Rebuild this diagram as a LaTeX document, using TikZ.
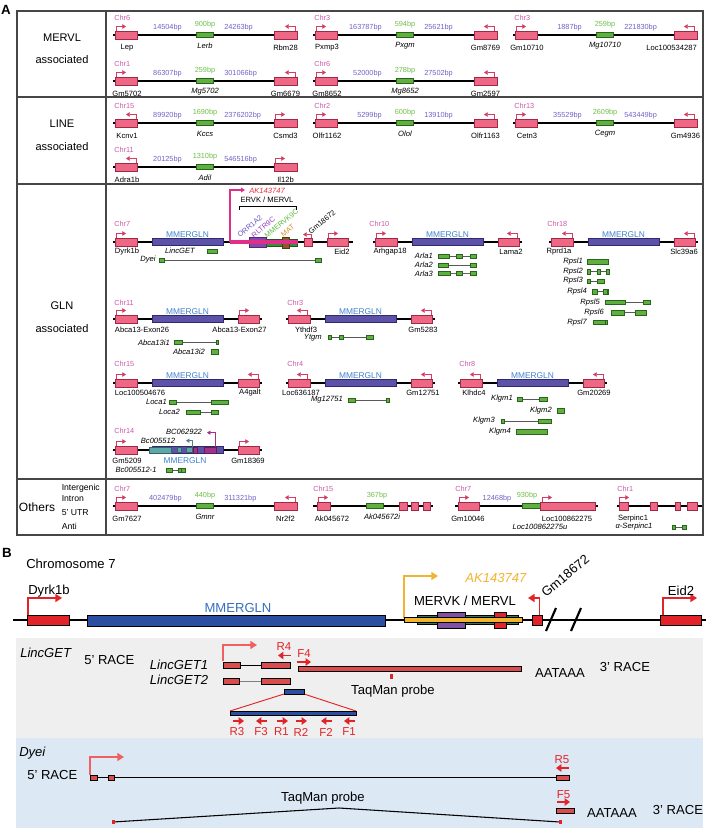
\documentclass[tikz,border=0pt]{standalone}
\usepackage{fontspec}
\setmainfont{Liberation Sans}
\usetikzlibrary{arrows.meta}
\definecolor{gpink}{RGB}{238,104,134}
\definecolor{gpinkd}{RGB}{160,40,70}
\definecolor{tssc}{RGB}{214,60,100}
\definecolor{lgreen}{RGB}{96,176,64}
\definecolor{lgreend}{RGB}{40,100,30}
\definecolor{glnc}{RGB}{92,82,168}
\definecolor{glncd}{RGB}{50,40,110}
\definecolor{chrc}{RGB}{204,92,170}
\definecolor{bpc}{RGB}{112,100,200}
\definecolor{szc}{RGB}{112,190,72}
\definecolor{glnlabc}{RGB}{64,132,204}
\definecolor{bred}{RGB}{226,36,40}
\definecolor{lred}{RGB}{216,78,78}
\definecolor{tssb}{RGB}{240,96,96}
\definecolor{borange}{RGB}{242,180,48}
\definecolor{bblue}{RGB}{44,78,160}
\definecolor{bblab}{RGB}{52,112,192}
\definecolor{bpurple}{RGB}{128,80,164}
\definecolor{bgreen}{RGB}{60,120,60}
\definecolor{bandgray}{RGB}{239,239,239}
\definecolor{bandblue}{RGB}{220,232,244}
\definecolor{magc}{RGB}{222,48,136}
\definecolor{mvio}{RGB}{136,70,176}
\definecolor{tealc}{RGB}{92,168,168}
\definecolor{brownc}{RGB}{140,90,40}
\definecolor{matc}{RGB}{214,140,50}
\definecolor{oriv}{RGB}{100,84,200}
\definecolor{rltc}{RGB}{150,64,190}
\definecolor{mmvc}{RGB}{96,186,64}
\definecolor{ervg}{RGB}{60,140,60}
\definecolor{bordc}{RGB}{70,70,70}
\definecolor{akred}{RGB}{230,50,60}
\definecolor{bcmag}{RGB}{160,50,140}
\newcommand\fGene{\fontsize{5.7}{6.5}\selectfont}
\newcommand\fBp{\fontsize{5.5}{6.5}\selectfont}
\newcommand\fSide{\fontsize{8.3}{10}\selectfont}
\newcommand\fBig{\fontsize{9.8}{12}\selectfont}
\newcommand\fPr{\fontsize{8.6}{10}\selectfont}
\newcommand\fRot{\fontsize{5.5}{6.5}\selectfont}
% shapes
\newcommand\mkPink[3]{\draw[genebox] (#1,#3-3.8) rectangle (#2,#3+3.8);}
\newcommand\mkLnc[3]{\draw[lncbox] (#1,#3-2.6) rectangle (#2,#3+2.6);}
\newcommand\mkTr[3]{\draw[lncbox] (#1,#3-2.2) rectangle (#2,#3+2.2);}
\newcommand\mkTrLine[3]{\draw[trline] (#1,#3) -- (#2,#3);}
\newcommand\mkTssR[2]{\draw[tssA] (#1,#2-3.8) -- (#1,#2-8.5) -- (#1+10,#2-8.5);}
\newcommand\mkTssL[2]{\draw[tssA] (#1,#2-3.8) -- (#1,#2-8.5) -- (#1-10,#2-8.5);}
\newcommand\mkStd[2]{%
  \draw[chrline] (#1+113,#2) -- (#1+298,#2);
  \mkPink{#1+115}{#1+137}{#2}
  \mkLnc{#1+196}{#1+213}{#2}
  \mkPink{#1+274}{#1+297}{#2}}
\newcommand\mkStdLab[9]{%
  \node[chrlab,anchor=west] at (#1+114,#2-17.5) {#3};
  \node[gname] at (#1+127,#2+12.7) {#4};
  \node[bplab,anchor=east] at (#1+182,#2-7.5) {#5};
  \node[szlab] at (#1+205,#2-10) {#6};
  \node[gital] at (#1+205,#2+10.5) {#7};
  \node[bplab,anchor=west] at (#1+224,#2-7.5) {#8};
  \node[gname] at (#1+285.5,#2+12.7) {#9};}
\newcommand\mkGln[2]{%
  \draw[chrline] (#1+113,#2) -- (#1+262,#2);
  \mkPink{#1+115}{#1+137}{#2}
  \draw[glnbox] (#1+152,#2-3.3) rectangle (#1+223,#2+3.3);
  \mkPink{#1+238}{#1+259}{#2}}
\newcommand\mkGlnLab[2]{\node[glnl] at (#1+187.5,#2-7.2) {MMERGLN};}
\begin{document}
\begin{tikzpicture}[x=0.75pt,y=-0.75pt,
  genebox/.style={fill=gpink,draw=gpinkd,line width=0.35pt},
  lncbox/.style={fill=lgreen,draw=lgreend,line width=0.35pt},
  glnbox/.style={fill=glnc,draw=glncd,line width=0.35pt},
  chrline/.style={line width=1.1pt},
  trline/.style={line width=0.5pt,draw=black!65},
  tssA/.style={draw=tssc,line width=0.75pt,-{Triangle[length=2.8pt,width=3.4pt]}},
  framel/.style={draw=bordc,line width=0.8pt},
  gname/.style={font=\fGene,inner sep=0pt},
  gital/.style={font=\fGene\itshape,inner sep=0pt},
  chrlab/.style={font=\fBp,text=chrc,inner sep=0pt},
  bplab/.style={font=\fBp,text=bpc,inner sep=0pt},
  szlab/.style={font=\fBp,text=szc,inner sep=0pt},
  glnl/.style={font=\fontsize{6.3}{7}\selectfont,text=glnlabc,inner sep=0pt},
  sidetxt/.style={font=\fSide,inner sep=0pt},
  bigtxt/.style={font=\fBig,inner sep=0pt},
  bigit/.style={font=\fBig\itshape,inner sep=0pt},
  bbox/.style={draw=black,line width=0.45pt},
  tssbig/.style={line width=1.2pt,-{Triangle[length=5pt,width=6pt]}},
  primer/.style={draw=bred,line width=1.4pt,-{Triangle[length=4pt,width=5.5pt]}},
  prlab/.style={font=\fPr,text=bred,inner sep=0pt},
  rotl/.style={font=\fRot,inner sep=0pt,rotate=40,anchor=base west}]
\useasboundingbox (0,0) rectangle (709,828);
\fill[white] (0,0) rectangle (709,828);
% ================= Panel A ==================
\node[font=\bfseries\fontsize{10}{12}\selectfont,inner sep=0pt] (labA) at (6,9.5) {A};
\draw[framel] (17,11) rectangle (703,535);
\draw[framel] (106,11) -- (106,535);
\draw[framel] (17,97) -- (703,97);
\draw[framel] (17,184) -- (703,184);
\draw[framel] (17,479) -- (703,479);
\node[sidetxt] (s1) at (62,38) {MERVL};
\node[sidetxt] (s2) at (62,60) {associated};
\node[sidetxt] (s3) at (62,124) {LINE};
\node[sidetxt] (s4) at (62,147) {associated};
\node[sidetxt] (s5) at (62,306) {GLN};
\node[sidetxt] (s6) at (62,329) {associated};
\node[font=\fontsize{9}{11}\selectfont,inner sep=0pt] (s7) at (37,507) {Others};
\node[font=\fontsize{6.5}{8}\selectfont,inner sep=0pt,anchor=west] at (61.5,488) {Intergenic};
\node[font=\fontsize{6.5}{8}\selectfont,inner sep=0pt,anchor=west] at (61.5,498.5) {Intron};
\node[font=\fontsize{6.5}{8}\selectfont,inner sep=0pt,anchor=west] at (61.5,512.5) {5' UTR};
\node[font=\fontsize{6.5}{8}\selectfont,inner sep=0pt,anchor=west] at (61.5,526.5) {Anti};
% ---- MERVL
\mkStd{0}{35} \mkTssR{116}{35} \mkTssL{295}{35}
\mkStdLab{0}{35}{Chr6}{Lep}{14504bp}{900bp}{Lerb}{24263bp}{Rbm28}
\mkStd{200}{35} \mkTssR{316}{35} \mkTssL{494}{35}
\mkStdLab{200}{35}{Chr3}{Pxmp3}{163787bp}{594bp}{Pxgm}{25621bp}{Gm8769}
\mkStd{400}{35} \mkTssR{516}{35} \mkTssL{694}{35}
\mkStdLab{400}{35}{Chr3}{Gm10710}{1887bp}{259bp}{Mg10710}{221830bp}{}
\node[gname,anchor=east] at (697,47.7) {Loc100534287};
\mkStd{0}{81} \mkTssR{116}{81} \mkTssL{295}{81}
\mkStdLab{0}{81}{Chr1}{Gm5702}{86307bp}{259bp}{Mg5702}{301066bp}{Gm6679}
\mkStd{200}{81} \mkTssR{316}{81} \mkTssL{494}{81}
\mkStdLab{200}{81}{Chr6}{Gm8652}{52000bp}{278bp}{Mg8652}{27502bp}{Gm2597}
% ---- LINE
\mkStd{0}{123} \mkTssL{136}{123} \mkTssR{275}{123}
\mkStdLab{0}{123}{Chr15}{Kcnv1}{89920bp}{1690bp}{Kccs}{2376202bp}{Csmd3}
\mkStd{200}{123} \mkTssR{316}{123} \mkTssL{494}{123}
\mkStdLab{200}{123}{Chr2}{Olfr1162}{5299bp}{600bp}{Olol}{13910bp}{Olfr1163}
\mkStd{400}{123} \mkTssR{516}{123} \mkTssL{694}{123}
\mkStdLab{400}{123}{Chr13}{Cetn3}{35529bp}{2609bp}{Cegm}{543449bp}{Gm4936}
\mkStd{0}{167} \mkTssL{136}{167} \mkTssR{275}{167}
\mkStdLab{0}{167}{Chr11}{Adra1b}{20125bp}{1310bp}{Adil}{546516bp}{Il12b}
% ---- GLN : Chr7
\draw[chrline] (113,242) -- (353,242);
\mkPink{115}{137}{242} \mkTssR{116}{242}
\draw[glnbox] (152,238.7) rectangle (223,245.3);
\node[glnl] at (187.5,235) {MMERGLN};
\draw[fill=mvio,draw=mvio!60!black,line width=0.3pt] (249,237.3) rectangle (266,246.7);
\draw[fill=ervg,draw=ervg!60!black,line width=0.3pt] (266,239) rectangle (297,246);
\draw[fill=brownc,draw=brownc!60!black,line width=0.3pt] (282,236.7) rectangle (289,247.7);
\fill[magc] (230,240.3) rectangle (298,243.5);
\draw[magc,line width=0.9pt,-{Triangle[length=3pt,width=3.6pt]}] (230,242) -- (230,190) -- (245,190);
\node[font=\fGene\itshape,text=akred,inner sep=0pt] at (267,190.5) {AK143747};
\node[gname] at (267,200) {ERVK / MERVL};
\draw[line width=0.45pt] (239,209.5) -- (239,206.7) -- (296,206.7) -- (296,209.5);
\node[rotl,text=oriv] at (240,238) {ORR1A2};
\node[rotl,text=rltc] at (254,238.5) {RLTR9C};
\node[rotl,text=mmvc] at (267,239) {MMERVK9C};
\node[rotl,text=matc] at (283.5,237.5) {MAT};
\node[rotl] at (311,234.5) {Gm18672};
\mkPink{304}{312}{242}
\draw[tssA] (311,238.2) -- (311,234.5) -- (303,234.5);
\mkPink{327}{348}{242} \mkTssR{328}{242}
\node[chrlab,anchor=west] at (114,224) {Chr7};
\node[gname] at (127,251.5) {Dyrk1b};
\node[gname] at (342,251.5) {Eid2};
\node[gital] at (180,251) {LincGET};
\mkTr{207}{217}{251}
\node[gital] at (148,260) {Dyei};
\mkTrLine{164}{315}{260}
\mkTr{159}{164}{260} \mkTr{315}{321}{260}
% ---- Chr10
\mkGln{260}{242} \mkGlnLab{260}{242}
\mkTssR{376}{242} \mkTssL{517}{242}
\node[chrlab,anchor=west] at (369,224) {Chr10};
\node[gname] at (390,251.5) {Arhgap18};
\node[gname] at (511,251.5) {Lama2};
\node[gital,anchor=east] at (433,256) {Arla1};
\mkTrLine{438}{476}{256} \mkTr{438}{449}{256} \mkTr{456}{462}{256} \mkTr{470}{476}{256}
\node[gital,anchor=east] at (433,265) {Arla2};
\mkTrLine{438}{476}{265} \mkTr{438}{448}{265} \mkTr{470}{476}{265}
\node[gital,anchor=east] at (433,273.5) {Arla3};
\draw[line width=0.9pt,draw=black!60] (438,273.5) -- (476,273.5);
\mkTr{438}{450}{273.5} \mkTr{456}{462}{273.5} \mkTr{470}{476}{273.5}
% ---- Chr18
\mkGln{436}{242} \mkGlnLab{436}{242}
\mkTssL{572}{242} \mkTssL{694}{242}
\node[chrlab,anchor=west] at (547,224) {Chr18};
\node[gname] at (559,251.5) {Rprd1a};
\node[gname] at (684,251.5) {Slc39a6};
\node[gital,anchor=east] at (583,261.7) {Rpsl1};
\mkTr{587}{608}{261.7}
\node[gital,anchor=east] at (583,271.7) {Rpsl2};
\mkTrLine{587}{609}{271.7} \mkTr{587}{590}{271.7} \mkTr{597}{600}{271.7} \mkTr{606}{609}{271.7}
\node[gital,anchor=east] at (583,281) {Rpsl3};
\mkTrLine{587}{604}{281} \mkTr{587}{590}{281} \mkTr{597}{604}{281}
\node[gital,anchor=east] at (587,291.7) {Rpsl4};
\mkTrLine{592}{608.5}{291.7} \mkTr{592}{597}{291.7} \mkTr{603}{607}{291.7} \mkTr{607.5}{608.5}{291.7}
\node[gital,anchor=east] at (600,302.3) {Rpsl5};
\mkTrLine{605}{650}{302.3} \mkTr{605}{625}{302.3} \mkTr{643}{650}{302.3}
\node[gital,anchor=east] at (604,312.7) {Rpsl6};
\mkTrLine{611}{646}{312.7} \mkTr{611}{624}{312.7} \mkTr{635}{646}{312.7}
\node[gital,anchor=east] at (587,322.3) {Rpsl7};
\mkTr{593}{605}{322.3} \mkTr{605.5}{607.5}{322.3}
% ---- Chr11 Abca13
\mkGln{0}{319} \mkGlnLab{0}{319}
\mkTssR{116}{319} \mkTssR{239}{319}
\node[chrlab,anchor=west] at (114,303) {Chr11};
\node[gname] at (142,329.5) {Abca13-Exon26};
\node[gname] at (239.5,329.5) {Abca13-Exon27};
\node[gital,anchor=east] at (170,342.3) {Abca13i1};
\mkTrLine{174}{218}{342.3} \mkTr{174}{182}{342.3} \mkTr{216}{218}{342.3}
\node[gital,anchor=east] at (205,351.7) {Abca13i2};
\mkTr{211}{218}{351.7}
% ---- Chr3 Ythdf3
\mkGln{173}{319} \mkGlnLab{173}{319}
\mkTssL{307}{319} \mkTssL{431}{319}
\node[chrlab,anchor=west] at (287,303) {Chr3};
\node[gname] at (306,329.5) {Ythdf3};
\node[gname] at (423,329.5) {Gm5283};
\node[gital,anchor=east] at (322,337.3) {Ytgm};
\mkTrLine{328}{373}{337.3} \mkTr{328}{331}{337.3} \mkTr{339}{343}{337.3} \mkTr{366}{373}{337.3}
% ---- Chr15
\mkGln{0}{383} \mkGlnLab{0}{383}
\mkTssR{116}{383} \mkTssL{258}{383}
\node[chrlab,anchor=west] at (114,364) {Chr15};
\node[gname] at (140,393) {Loc100504676};
\node[gname] at (250,393) {A4galt};
\node[gital,anchor=east] at (167,402.3) {Loca1};
\mkTrLine{169}{228}{402.3} \mkTr{169}{176}{402.3} \mkTr{211}{228}{402.3}
\node[gital,anchor=east] at (180,412) {Loca2};
\mkTrLine{186}{218}{412} \mkTr{186}{200}{412} \mkTr{211}{218}{412}
% ---- Chr4
\mkGln{173}{383} \mkGlnLab{173}{383}
\mkTssL{307}{383} \mkTssL{431}{383}
\node[chrlab,anchor=west] at (287,364) {Chr4};
\node[gname] at (301,393) {Loc636187};
\node[gname] at (423,393) {Gm12751};
\node[gital,anchor=east] at (343,400) {Mg12751};
\mkTrLine{348}{389}{400} \mkTr{348}{355}{400} \mkTr{386}{389}{400}
% ---- Chr8
\mkGln{345}{383} \mkGlnLab{345}{383}
\mkTssL{480}{383} \mkTssL{603}{383}
\node[chrlab,anchor=west] at (459,364) {Chr8};
\node[gname] at (474,393) {Klhdc4};
\node[gname] at (594,393) {Gm20269};
\node[gital,anchor=east] at (513,399) {Klgm1};
\mkTrLine{517}{547}{399} \mkTr{517}{522}{399} \mkTr{539}{547}{399}
\node[gital,anchor=east] at (552,410.7) {Klgm2};
\mkTr{557}{564}{410.7}
\node[gital,anchor=east] at (495,421) {Klgm3};
\mkTrLine{501}{551}{421} \mkTr{501}{504}{421} \mkTr{538}{551}{421}
\node[gital,anchor=east] at (511,431.7) {Klgm4};
\mkTr{516}{547}{431.7}
% ---- Chr14
\draw[chrline] (113,450) -- (262,450);
\mkPink{115}{137}{450} \mkTssR{116}{450}
\draw[glnbox] (152,446.7) rectangle (223,453.3);
\draw[fill=tealc,draw=tealc!60!black,line width=0.3pt] (149,447) rectangle (171,453);
\draw[fill=tealc,draw=tealc!60!black,line width=0.3pt] (177,447.5) rectangle (181,452.5);
\draw[fill=tealc,draw=tealc!60!black,line width=0.3pt] (186,447.5) rectangle (192,452.5);
\draw[fill=bcmag,draw=bcmag!60!black,line width=0.3pt] (193,447) rectangle (197,453);
\draw[fill=bcmag,draw=bcmag!60!black,line width=0.3pt] (204,447) rectangle (216,453);
\mkPink{238}{259}{450} \mkTssR{239}{450}
\draw[bcmag,line width=0.75pt,-{Triangle[length=2.6pt,width=3.2pt]}] (215,447) -- (215,432.7) -- (207,432.7);
\draw[tealc!80!black,line width=0.75pt,-{Triangle[length=2.6pt,width=3.2pt]}] (192,447) -- (192,440.7) -- (186,440.7);
\node[gital] at (184,432) {BC062922};
\node[gital] at (158,440.7) {Bc005512};
\node[chrlab,anchor=west] at (114,431) {Chr14};
\node[gname] at (127,461) {Gm5209};
\node[glnl] at (185,461) {MMERGLN};
\node[gname] at (248,461) {Gm18369};
\node[gital] at (136,470) {Bc005512-1};
\mkTrLine{166}{185}{470} \mkTr{166}{172}{470} \mkTr{178}{181}{470} \mkTr{181}{185}{470}
% ---- Others
\mkStd{0}{506} \mkTssR{116}{506} \mkTssL{295}{506}
\mkStdLab{0}{506}{Chr7}{Gm7627}{402479bp}{440bp}{Gmnr}{311321bp}{Nr2f2}
\draw[chrline] (313,506) -- (433,506);
\mkPink{317}{330}{506} \mkTssR{318}{506}
\mkLnc{366}{383}{506}
\mkPink{399}{407}{506} \mkPink{411}{418}{506} \mkPink{423}{430}{506}
\node[chrlab,anchor=west] at (313,488.5) {Chr15};
\node[szlab] at (377,496) {367bp};
\node[gname] at (332,518.7) {Ak045672};
\node[gital] at (382,516.5) {Ak045672i};
\draw[chrline] (455,506) -- (598,506);
\mkPink{458}{479}{506} \mkTssR{459}{506}
\mkLnc{522}{540}{506}
\mkPink{540}{595}{506} \mkTssR{542}{506}
\node[chrlab,anchor=west] at (455,488.5) {Chr7};
\node[bplab] at (497,498.5) {12468bp};
\node[szlab] at (527,496) {930bp};
\node[gname] at (468,518.7) {Gm10046};
\node[gname] at (567,518.7) {Loc100862275};
\node[gital] at (540,527) {Loc100862275u};
\draw[chrline] (617,506) -- (702,506);
\mkPink{619}{628}{506} \mkTssR{619}{506}
\mkPink{650}{657}{506} \mkPink{675}{680}{506} \mkPink{687}{697}{506}
\node[chrlab,anchor=west] at (617,488.5) {Chr1};
\node[gname] at (633,518.7) {Serpinc1};
\node[gital] at (634,527) {α-Serpinc1};
\mkTrLine{672}{686}{527} \mkTr{672}{675}{527} \mkTr{682}{686}{527}
% ================= Panel B ==================
\node[font=\bfseries\fontsize{10}{12}\selectfont,inner sep=0pt] (labB) at (7,553) {B};
\node[bigtxt,anchor=west] (chrom) at (26,564) {Chromosome 7};
\fill[bandgray] (16,638) rectangle (703,738);
\fill[bandblue] (16,738) rectangle (703,828);
\draw[line width=1.3pt] (13,620) -- (706,620);
% Dyrk1b
\draw[bbox,fill=bred] (27,615) rectangle (69,625);
\draw[tssbig,bred] (28,615) -- (28,598) -- (62,598);
\node[bigtxt] at (49,591) {Dyrk1b};
% MMERGLN
\draw[bbox,fill=bblue] (87,615) rectangle (385,626);
\node[bigtxt,text=bblab] at (238,607.5) {MMERGLN};
% MERV
\draw[tssbig,borange] (404,618) -- (404,576) -- (438,576);
\node[bigit,text=borange] at (496,578) {AK143747};
\node[bigtxt] at (465,601) {MERVK / MERVL};
\draw[bbox,fill=bgreen] (417,615.5) rectangle (518,624.5);
\draw[bbox,fill=bpurple] (437,612) rectangle (465,628);
\draw[bbox,fill=bred] (494,612) rectangle (506,628);
\draw[bbox,fill=borange] (404,617.5) rectangle (522,622.5);
% Gm18672
\draw[bbox,fill=bred] (532,615) rectangle (542,625);
\draw[tssbig,bred] (539.5,615) -- (539.5,598) -- (528,598);
\node[font=\fBig,inner sep=0pt,rotate=40,anchor=base west] at (546,598) {Gm18672};
\draw[line width=1.6pt] (546,631) -- (556,608);
\draw[line width=1.6pt] (571,631) -- (581,608);
% Eid2
\draw[bbox,fill=bred] (660,615) rectangle (701,625);
\draw[tssbig,bred] (663,615) -- (663,598) -- (697,598);
\node[bigtxt] at (681,591) {Eid2};
% LincGET
\node[bigit,anchor=west] at (20,653) {LincGET};
\node[bigtxt,anchor=west] at (84,660) {5' RACE};
\draw[tssbig,tssb] (223,661) -- (223,645) -- (257,645);
\node[prlab] at (284,647) {R4};
\draw[primer] (291,655.5) -- (278,655.5);
\node[prlab] at (304,654) {F4};
\draw[primer] (297,662) -- (311,662);
\node[bigit] at (179,665) {LincGET1};
\draw[line width=0.6pt] (240,665) -- (261,665);
\draw[bbox,fill=lred] (223,662) rectangle (240,668);
\draw[bbox,fill=lred] (261,662) rectangle (290,668);
\draw[bbox,fill=lred] (298,666) rectangle (521,671);
\node[bigtxt] at (560,673) {AATAAA};
\node[bigtxt] at (625,667) {3' RACE};
\node[bigit] at (179,680) {LincGET2};
\draw[line width=0.6pt,draw=black!50] (239,681) -- (261,681);
\draw[bbox,fill=lred] (223,678) rectangle (239,684);
\draw[bbox,fill=lred] (261,678) rectangle (290,684);
\fill[bred] (390,674) rectangle (393,679);
\node[bigtxt] at (393,691) {TaqMan probe};
\draw[bred,line width=0.7pt] (284,694) -- (230,711);
\draw[bred,line width=0.7pt] (304,694) -- (356,711);
\draw[bbox,fill=bblue] (284,689) rectangle (304,694);
\draw[bbox,fill=bblue] (230,711) rectangle (356,715);
\draw[primer] (233,721) -- (244,721);
\draw[primer] (267,721) -- (256,721);
\draw[primer] (277,721) -- (288,721);
\draw[primer] (296,721) -- (307,721);
\draw[primer] (332,721) -- (321,721);
\draw[primer] (355,721) -- (344,721);
\node[prlab] at (237,732) {R3};
\node[prlab] at (261,732) {F3};
\node[prlab] at (281.5,732) {R1};
\node[prlab] at (301,732) {R2};
\node[prlab] at (326,732) {F2};
\node[prlab] at (349,732) {F1};
% Dyei
\node[bigit,anchor=west] at (19,753) {Dyei};
\node[bigtxt,anchor=west] at (27,775) {5' RACE};
\draw[tssbig,tssb] (90,775) -- (90,757) -- (124,757);
\draw[line width=0.7pt] (97.5,777.5) -- (556,777.5);
\draw[bbox,fill=lred] (90,775) rectangle (97.5,780);
\draw[bbox,fill=lred] (108,775) rectangle (114,780);
\draw[bbox,fill=lred] (556,775) rectangle (569,780);
\node[prlab] at (562,760) {R5};
\draw[primer] (569,768) -- (556,768);
\node[prlab] at (563.5,795) {F5};
\draw[primer] (557,802) -- (570,802);
\draw[bbox,fill=lred] (556,808) rectangle (574,813);
\node[bigtxt] at (612,813) {AATAAA};
\node[bigtxt] at (678,810) {3' RACE};
\node[bigtxt] at (323,798) {TaqMan probe};
\draw[line width=0.8pt] (113,822) -- (339,808) -- (560,822);
\fill[bred] (111.5,820) rectangle (114.5,824);
\fill[bred] (558.5,820) rectangle (561.5,824);
\end{tikzpicture}
\end{document}
